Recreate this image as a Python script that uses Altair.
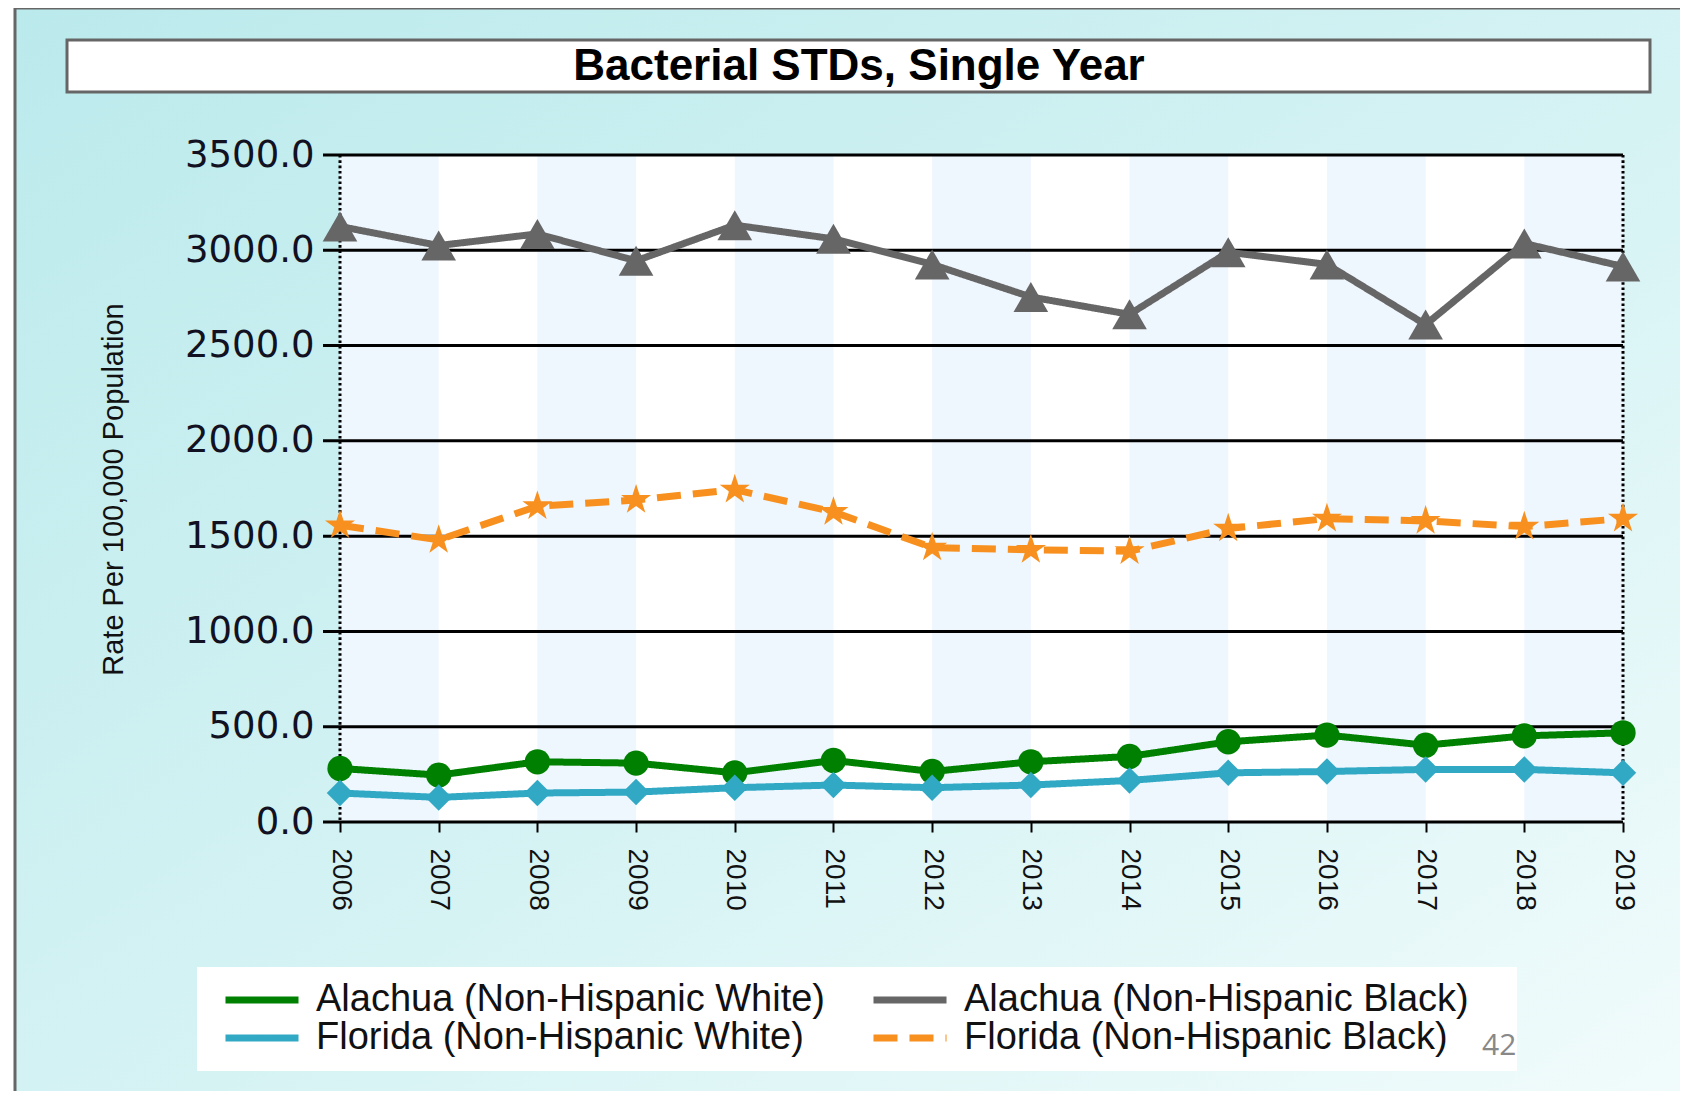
import altair as alt
import pandas as pd

# ---------------- data ----------------
years = [2006, 2007, 2008, 2009, 2010, 2011, 2012, 2013, 2014, 2015, 2016, 2017, 2018, 2019]
alachua_white = [281, 246, 316, 309, 258, 323, 265, 316, 344, 421, 456, 403, 452, 468]
alachua_black = [3125, 3025, 3086, 2945, 3132, 3060, 2926, 2755, 2664, 2990, 2926, 2610, 3036, 2915]
florida_white = [152, 129, 152, 157, 180, 194, 180, 194, 218, 258, 265, 276, 276, 258]
florida_black = [1557, 1480, 1657, 1690, 1744, 1627, 1440, 1428, 1421, 1540, 1592, 1580, 1550, 1592]

series_names = [
    "Alachua (Non-Hispanic White)",
    "Alachua (Non-Hispanic Black)",
    "Florida (Non-Hispanic White)",
    "Florida (Non-Hispanic Black)",
]
series_values = [alachua_white, alachua_black, florida_white, florida_black]
series_colors = ["#008000", "#666666", "#31A9C4", "#F7901E"]
series_dash = [[1, 0], [1, 0], [1, 0], [24, 12]]
star = ("M0,-1L0.225,-0.309L0.951,-0.309L0.363,0.118L0.588,0.809L0,0.382"
        "L-0.588,0.809L-0.363,0.118L-0.951,-0.309L-0.225,-0.309Z")
series_shapes = ["circle", "triangle-up", "diamond", star]
series_sizes = [640, 1200, 700, 1000]

y_ticks = [0, 500, 1000, 1500, 2000, 2500, 3000, 3500]
band_starts = [2006, 2008, 2010, 2012, 2014, 2016, 2018]
edge_years = [2006, 2019]

title_text = "Bacterial STDs, Single Year"
y_title = "Rate Per 100,000 Population"
page_number = "42"

rows = []
for name, vals in zip(series_names, series_values):
    for yr, v in zip(years, vals):
        rows.append({"year": yr, "rate": v, "series": name})
df = pd.DataFrame(rows)

# ---------------- layout ----------------
W, H = 1283, 667
PAD = {"left": 332, "top": 147, "right": 57, "bottom": 269}

xscale = alt.Scale(domain=[2006, 2019], nice=False, zero=False)
yscale = alt.Scale(domain=[0, 3500], nice=False, zero=True)

x_axis = alt.Axis(values=years, format="d", title=None, grid=False, domain=False, zindex=1,
                  ticks=True, tickSize=10, tickWidth=2, tickColor="black",
                  labelAngle=90, labelAlign="left", labelBaseline="middle",
                  labelFont="Liberation Sans", labelFontSize=28, labelColor="#111111",
                  labelPadding=16, labelOverlap=False)
y_axis = alt.Axis(values=y_ticks, format=".1f", grid=False, domain=False, ticks=False, zindex=1,
                  labelFont="DejaVu Sans", labelFontSize=37, labelColor="#111122",
                  labelPadding=26,
                  title=y_title, titleFont="Liberation Sans",
                  titleFontSize=29, titleFontWeight="normal", titleColor="#111111",
                  titleX=-218, titleY=334, titleAngle=270, titleAlign="center",
                  titleBaseline="alphabetic")

one = pd.DataFrame({"k": [0]})

# page background with gradient and frame
bg = alt.Chart(one).mark_rect(
    fill=alt.Gradient(
        gradient="linear",
        stops=[alt.GradientStop(color="#BBEAEC", offset=0),
               alt.GradientStop(color="#D6F3F4", offset=0.5),
               alt.GradientStop(color="#F7FDFD", offset=1)],
        x1=0, y1=0, x2=1, y2=1),
    stroke="#666666", strokeWidth=3,
).encode(x=alt.value(-325), x2=alt.value(W + 200), y=alt.value(-147), y2=alt.value(H + 400))

# title box + title
title_box = alt.Chart(one).mark_rect(fill="white", stroke="#666666", strokeWidth=3).encode(
    x=alt.value(-273), x2=alt.value(1310), y=alt.value(-115), y2=alt.value(-63))
title = alt.Chart(one).mark_text(
    text=title_text, font="Liberation Sans", fontSize=44, fontWeight="bold",
    color="#000000", align="center", baseline="middle",
).encode(x=alt.value(519), y=alt.value(-88))

# plot background and alternating bands
plot_bg = alt.Chart(one).mark_rect(fill="white").encode(
    x=alt.value(0), x2=alt.value(W), y=alt.value(0), y2=alt.value(H))
bands = alt.Chart(pd.DataFrame({"start": band_starts})).transform_calculate(
    end="datum.start + 1").mark_rect(fill="#EEF6FE").encode(
    x=alt.X("start:Q", scale=xscale, axis=x_axis),
    x2="end:Q",
    y=alt.value(0), y2=alt.value(H))

# horizontal grid lines (with left tick stubs)
grid = alt.Chart(pd.DataFrame({"g": y_ticks})).mark_rule(color="black", strokeWidth=3).encode(
    y=alt.Y("g:Q", scale=yscale, axis=y_axis),
    x=alt.value(-17), x2=alt.value(W))

# dotted edges
edges = alt.Chart(pd.DataFrame({"e": edge_years})).mark_rule(
    color="black", strokeWidth=3, strokeDash=[2.6, 2.7]).encode(
    x=alt.X("e:Q", scale=xscale, axis=x_axis),
    y=alt.value(0), y2=alt.value(H))

lines = alt.Chart(df).mark_line(strokeWidth=7).encode(
    x=alt.X("year:Q", scale=xscale, axis=x_axis),
    y=alt.Y("rate:Q", scale=yscale, axis=y_axis),
    color=alt.Color("series:N", scale=alt.Scale(domain=series_names, range=series_colors),
                    legend=alt.Legend(
                        title=None, orient="none", legendX=-97, legendY=826,
                        direction="horizontal", columns=2, columnPadding=34, rowPadding=0,
                        symbolType="M-2.5,0L2.5,0", symbolSize=853, symbolStrokeWidth=7,
                        labelFont="Liberation Sans", labelFontSize=38, labelColor="#111111",
                        labelOffset=35, labelLimit=700, padding=0)),
    strokeDash=alt.StrokeDash("series:N", scale=alt.Scale(domain=series_names, range=series_dash),
                              legend=None),
    detail="series:N",
)

# markers: one layer per series, constant styling
point_layers = []
for name, col, shp, sz in zip(series_names, series_colors, series_shapes, series_sizes):
    point_layers.append(
        alt.Chart(df).transform_filter(alt.datum.series == name).mark_point(
            filled=True, fill=col, opacity=1, strokeWidth=0, shape=shp, size=sz,
        ).encode(
            x=alt.X("year:Q", scale=xscale, axis=x_axis),
            y=alt.Y("rate:Q", scale=yscale, axis=y_axis),
        )
    )

legend_box = alt.Chart(one).mark_rect(fill="white").encode(
    x=alt.value(-143), x2=alt.value(1177), y=alt.value(812), y2=alt.value(916))
page_num = alt.Chart(one).mark_text(
    text=page_number, font="Open Sans", fontSize=30, color="#888888",
    align="left", baseline="alphabetic").encode(x=alt.value(1142), y=alt.value(900))

chart = alt.layer(
    bg, title_box, title, legend_box, page_num, plot_bg, bands, grid, edges, lines, *point_layers
).properties(
    width=W, height=H,
    autosize=alt.AutoSizeParams(type="none"),
    padding=PAD,
    background="white",
).configure_view(strokeWidth=0)

chart.save("out.html", embed_options={"renderer": "svg", "actions": False})
